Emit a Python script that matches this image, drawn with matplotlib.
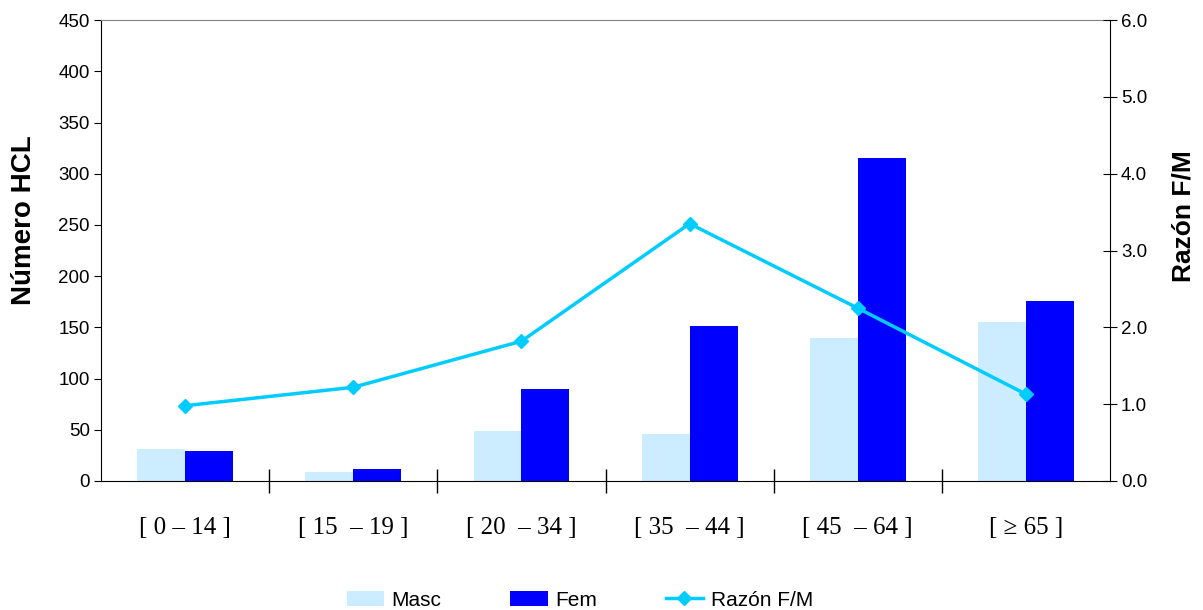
import numpy as np
import matplotlib.pyplot as plt
from matplotlib.ticker import MultipleLocator, FixedLocator

grupos = ['[ 0 – 14 ]', '[ 15  – 19 ]', '[ 20  – 34 ]', '[ 35  – 44 ]', '[ 45  – 64 ]', '[ ≥ 65 ]']
masc = [31, 9, 49, 46, 140, 155]
fem = [29, 12, 90, 151, 315, 176]
razon = [0.98, 1.22, 1.82, 3.35, 2.25, 1.13]

c_masc = '#CCECFF'
c_fem = '#0000FF'
c_razon = '#00CCFF'

plt.rcParams['font.family'] = ['Liberation Sans', 'DejaVu Sans']

fig = plt.figure(figsize=(12.03, 6.10), dpi=100)
ax = fig.add_axes([0.084, 0.2115, 0.8387, 0.7555])
x = np.arange(len(grupos))
w = 0.285

b1 = ax.bar(x - w/2, masc, w, color=c_masc, label='Masc', zorder=2)
b2 = ax.bar(x + w/2, fem, w, color=c_fem, label='Fem', zorder=2)

ax.set_xlim(-0.5, len(grupos) - 0.5)
ax.set_ylim(0, 450)
ax.yaxis.set_major_locator(MultipleLocator(50))
ax.tick_params(axis='y', direction='out', length=5, labelsize=13.5, pad=3)
ax.set_xticks(x)
ax.set_xticklabels(grupos, family=['Liberation Serif', 'DejaVu Serif'], fontsize=18)
ax.tick_params(axis='x', length=0, pad=26)
ax.xaxis.set_minor_locator(FixedLocator(np.arange(0.5, len(grupos) - 0.5, 1)))
ax.tick_params(axis='x', which='minor', direction='inout', length=17, width=1)
ax.spines['top'].set_color('#808080')
ax.spines['right'].set_visible(False)
ax.set_ylabel('Número HCL', fontsize=20, fontweight='bold')
ax.yaxis.set_label_coords(-0.0634, 0.566)

ax2 = ax.twinx()
l1, = ax2.plot(x, razon, color=c_razon, lw=2.5, marker='D', markersize=7, label='Razón F/M', zorder=3)
ax2.set_ylim(0, 6)
ax2.yaxis.set_major_locator(MultipleLocator(1))
ax2.yaxis.set_major_formatter(plt.FormatStrFormatter('%.1f'))
ax2.tick_params(axis='y', direction='inout', length=10, labelsize=13.5, pad=3)
ax2.spines['top'].set_visible(False)
ax2.spines['left'].set_visible(False)
ax2.spines['bottom'].set_visible(False)
ax2.set_ylabel('Razón F/M', fontsize=19, fontweight='bold', rotation=90)
ax2.yaxis.set_label_coords(1.0614, 0.574)

fig.legend([b1, b2, l1], ['Masc', 'Fem', 'Razón F/M'], loc='lower center',
           bbox_to_anchor=(0.482, -0.03), ncol=3, frameon=False,
           prop={'size': 15},
           handlelength=1.8, columnspacing=3.3, handletextpad=0.35)

fig.savefig('out.png', dpi=100)
